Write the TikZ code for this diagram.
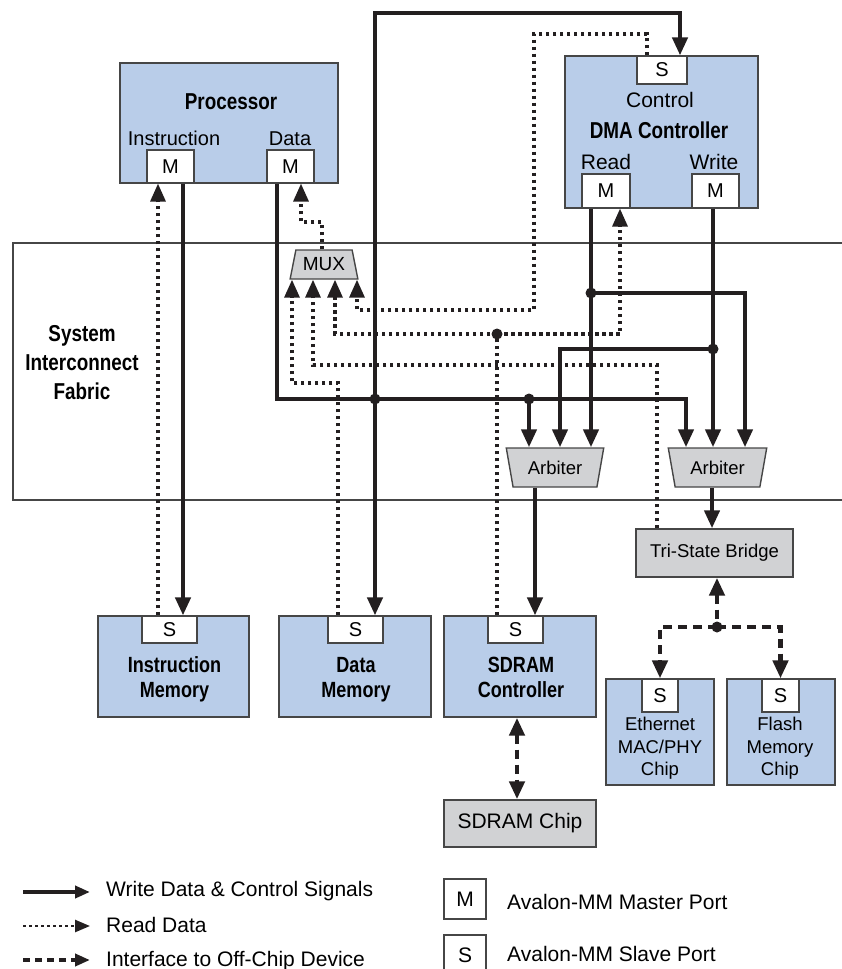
\documentclass[tikz,border=0pt]{standalone}
\usepackage{fontspec}
\setmainfont{Liberation Sans}
\newfontfamily\condfont[FakeStretch=0.82]{Liberation Sans}
\usetikzlibrary{arrows.meta,shapes.geometric}
\definecolor{ink}{RGB}{35,31,32}
\definecolor{bluefill}{RGB}{185,205,233}
\definecolor{grayfill}{RGB}{209,210,212}
\definecolor{edgec}{RGB}{70,70,70}
\newcommand{\myfs}[1]{\fontsize{#1}{#1}\selectfont}
\newcommand{\bcfont}[1]{\condfont\bfseries\fontsize{#1}{#1}\selectfont}
\begin{document}
\begin{tikzpicture}[x=1pt,y=-1pt,
  >={Triangle[width=15pt,length=18pt]},
  wl/.style={draw=ink,line width=4.2pt},
  rd/.style={draw=ink,line width=3.3pt,dash pattern=on 3.5pt off 3.5pt},
  oc/.style={draw=ink,line width=4.5pt,dash pattern=on 9pt off 6pt},
  blu/.style={draw=edgec,line width=1.4pt,fill=bluefill,inner sep=0pt},
  gry/.style={draw=edgec,line width=1.4pt,fill=grayfill,inner sep=0pt},
  port/.style={draw=edgec,line width=1.2pt,fill=white,inner sep=0pt,font=\myfs{20}},
  trap/.style={gry,trapezium,trapezium stretches=true,trapezium left angle=72,trapezium right angle=72},
  txt/.style={inner sep=0pt,anchor=base,font=\myfs{20}},
  btxt/.style={inner sep=0pt,anchor=base,font=\bcfont{22}},
  ltxt/.style={inner sep=0pt,anchor=base west,font=\myfs{21}},
  jdot/.style={fill=ink}
]
\useasboundingbox (0,0) rectangle (841,969);

% System interconnect fabric band
\draw[draw=edgec,line width=1.4pt] (845,243) -- (13,243) -- (13,500) -- (845,500);
\node[btxt,font=\bcfont{23}] (f1) at (82,341) {System};
\node[btxt,font=\bcfont{23}] (f2) at (82,370) {Interconnect};
\node[btxt,font=\bcfont{23}] (f3) at (82,399) {Fabric};

% Processor
\node[blu,minimum width=218pt,minimum height=120pt] (proc) at (229,123) {};
\node[btxt,font=\bcfont{23}] (procT) at (231,109) {Processor};
\node[txt] (instT) at (174,145) {Instruction};
\node[txt] (dataT) at (290,145) {Data};
\node[port,minimum width=47pt,minimum height=33pt] (iM) at (170.5,166.5) {M};
\node[port,minimum width=47pt,minimum height=33pt] (dM) at (290.5,166.5) {M};

% DMA controller
\node[blu,minimum width=193pt,minimum height=152pt] (dma) at (661.5,132) {};
\node[port,minimum width=50pt,minimum height=28pt] (dmaS) at (662,70) {S};
\node[txt,font=\myfs{21}] (ctlT) at (660,107) {Control};
\node[btxt,font=\bcfont{23}] (dmaT) at (659,138) {DMA Controller};
\node[txt,font=\myfs{21}] (rdT) at (606,169) {Read};
\node[txt,font=\myfs{21}] (wrT) at (714,169) {Write};
\node[port,minimum width=48pt,minimum height=34pt] (rM) at (606,191) {M};
\node[port,minimum width=47pt,minimum height=34pt] (wM) at (715.5,191) {M};

% MUX and arbiters
\node[trap,minimum width=68pt,minimum height=29pt,font=\myfs{19}] (mux) at (324,264.5) {MUX};
\node[trap,shape border rotate=180,minimum width=98pt,minimum height=39pt,font=\myfs{18.5}] (arb1) at (555,467.5) {Arbiter};
\node[trap,shape border rotate=180,minimum width=99pt,minimum height=39pt,font=\myfs{18.5}] (arb2) at (717.5,467.5) {Arbiter};

% Tri-state bridge
\node[gry,minimum width=157pt,minimum height=48pt,font=\myfs{18.5}] (br) at (714.5,553) {Tri-State Bridge};

% Memories
\node[blu,minimum width=151pt,minimum height=101pt] (imem) at (173.5,666.5) {};
\node[port,minimum width=55pt,minimum height=27pt] (imS) at (169.5,629.5) {S};
\node[btxt] (im1) at (174.5,672) {Instruction};
\node[btxt] (im2) at (174.5,697) {Memory};

\node[blu,minimum width=152pt,minimum height=101pt] (dmem) at (355,666.5) {};
\node[port,minimum width=55pt,minimum height=27pt] (dmS) at (355.5,629.5) {S};
\node[btxt] (dm1) at (356,672) {Data};
\node[btxt] (dm2) at (356,697) {Memory};

\node[blu,minimum width=152pt,minimum height=101pt] (sdc) at (520,666.5) {};
\node[port,minimum width=55pt,minimum height=27pt] (sdS) at (515.5,629.5) {S};
\node[btxt] (sd1) at (521,672) {SDRAM};
\node[btxt] (sd2) at (521,697) {Controller};

\node[gry,minimum width=152pt,minimum height=47pt,font=\myfs{21}] (chip) at (520,823.5) {SDRAM Chip};

\node[blu,minimum width=108pt,minimum height=106pt] (eth) at (660,732) {};
\node[port,minimum width=36pt,minimum height=33pt] (ethS) at (660,695.5) {S};
\node[txt,font=\myfs{18.5}] (e1) at (660,730) {Ethernet};
\node[txt,font=\myfs{18.5}] (e2) at (660,753) {MAC/PHY};
\node[txt,font=\myfs{18.5}] (e3) at (660,775) {Chip};

\node[blu,minimum width=108pt,minimum height=106pt] (fl) at (781,732) {};
\node[port,minimum width=37pt,minimum height=33pt] (flS) at (780.5,695.5) {S};
\node[txt,font=\myfs{18.5}] (fl1) at (780,730) {Flash};
\node[txt,font=\myfs{18.5}] (fl2) at (780,753) {Memory};
\node[txt,font=\myfs{18.5}] (fl3) at (780,775) {Chip};

% attachment points and junctions
\coordinate (iW) at ([xshift=12.5pt]iM.south);
\coordinate (iR) at ([xshift=-12.5pt]iM.south);
\coordinate (dW) at ([xshift=-13.5pt]dM.south);
\coordinate (dR) at ([xshift=10.5pt]dM.south);
\coordinate (dsW) at ([xshift=18pt]dmaS.north);
\coordinate (dsR) at ([xshift=-15pt]dmaS.north);
\coordinate (rMw) at ([xshift=-15pt]rM.south);
\coordinate (rMr) at ([xshift=14pt]rM.south);
\coordinate (wMw) at ([xshift=-2.5pt]wM.south);
\coordinate (a1o) at ([xshift=-20pt]arb1.south);
\coordinate (a2o) at ([xshift=-5.5pt]arb2.south);
\coordinate (mxo) at ([xshift=-2pt]mux.north);
\coordinate (brR) at ([xshift=-57.5pt]br.north);
\coordinate (brO) at ([xshift=2.5pt]br.south);
\coordinate (sdO) at ([xshift=-3pt]sdc.south);
\coordinate (j1) at (375,399);
\coordinate (j2) at (529,399);
\coordinate (j3) at (591,293);
\coordinate (j4) at (713,349);
\coordinate (j5) at (497,334);
\coordinate (j6) at (717,627);
\coordinate (k1) at (686,399);
\coordinate (ctop) at (375,13);
\coordinate (b1) at (338,383);
\coordinate (b2) at (313,365);
\coordinate (b3) at (534,34);
\coordinate (b4) at (357,310);
\coordinate (b5) at (301,222);

% write data & control (solid)
\draw[wl,->] (iW) -- (iW |- imS.north);
\draw[wl,->] (dW) |- (k1) -- (k1 |- arb2.north);
\draw[wl,->] (j1) -- (j1 |- dmS.north);
\draw[wl,->] (j1) -- (ctop) -| (dsW);
\draw[wl,->] (j2) -- (j2 |- arb1.north);
\draw[wl,->] (rMw) -- (rMw |- arb1.north);
\draw[wl,->] (j3) -| ([xshift=27.5pt]arb2.north);
\draw[wl,->] (wMw) -- (wMw |- arb2.north);
\draw[wl,->] (j4) -| ([xshift=5pt]arb1.north);
\draw[wl,->] (a1o) -- (a1o |- sdS.north);
\draw[wl,->] (a2o) -- (a2o |- br.north);

% read data (dotted)
\draw[rd,->] (iR |- imS.north) -- (iR);
\draw[rd,->] (b1 |- dmS.north) -- (b1) -| ([xshift=-32pt]mux.south);
\draw[rd] (j5 |- sdS.north) -- (j5);
\draw[rd,->] (j5) -| ([xshift=11pt]mux.south);
\draw[rd,->] (j5) -| (rMr);
\draw[rd,->] (brR) |- (b2) -- (b2 |- mux.south);
\draw[rd,->] (dsR) |- (b3) |- (b4) -- (b4 |- mux.south);
\draw[rd,->] (mxo) |- (b5) -- (dR);

% off-chip interfaces (dashed)
\draw[oc,<->] (sdO) -- (sdO |- chip.north);
\draw[oc,<-] (brO) -- (j6);
\draw[oc,->] (j6) -| (ethS.north);
\draw[oc,->] (j6) -| (flS.north);

% junction dots
\foreach \j in {j1,j2,j3,j4,j5,j6} \fill[jdot] (\j) circle (5.5pt);

% legend
\coordinate (lg1a) at (23,892); \coordinate (lg1b) at (90,892);
\coordinate (lg2a) at (23,926); \coordinate (lg2b) at (90,926);
\coordinate (lg3a) at (23,960); \coordinate (lg3b) at (90,960);
\draw[wl,-{Triangle[width=12pt,length=15pt]}] (lg1a) -- (lg1b);
\draw[rd,line width=2.5pt,dash pattern=on 3pt off 3pt,-{Triangle[width=12pt,length=15pt]}] (lg2a) -- (lg2b);
\draw[oc,line width=4pt,dash pattern=on 7pt off 5pt,-{Triangle[width=12pt,length=15pt]}] (lg3a) -- (lg3b);
\node[ltxt] (lt1) at (106,896) {Write Data \& Control Signals};
\node[ltxt] (lt2) at (106,932.5) {Read Data};
\node[ltxt] (lt3) at (106,966) {Interface to Off-Chip Device};
\node[port,minimum width=42pt,minimum height=40pt,font=\myfs{21}] (lgM) at (465,899) {M};
\node[port,minimum width=42pt,minimum height=40pt,font=\myfs{21}] (lgS) at (465,955) {S};
\node[ltxt] (lt4) at (507,909) {Avalon-MM Master Port};
\node[ltxt] (lt5) at (507,961.5) {Avalon-MM Slave Port};
\end{tikzpicture}
\end{document}
